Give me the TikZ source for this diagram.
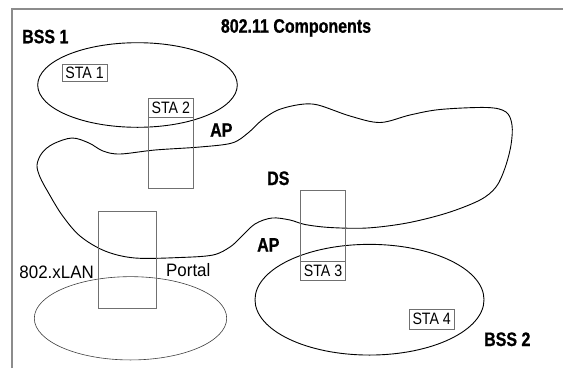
\documentclass[tikz,border=0pt]{standalone}
\usepackage{fontspec}
\setmainfont{Liberation Sans}
\newfontfamily\stafont[FakeStretch=0.86]{Liberation Sans}
\newfontfamily\boldfont[FakeStretch=0.82,FakeBold=0.8]{Liberation Sans Bold}
\newfontfamily\plainfont[FakeStretch=0.94]{Liberation Sans}
\usetikzlibrary{shapes.geometric}
\definecolor{framegray}{HTML}{8C8C8C}
\definecolor{boxgray}{HTML}{707070}
\begin{document}
\begin{tikzpicture}[x=1pt,y=-1pt,
  lbl/.style={font=\boldfont\fontsize{19.5}{19.5}\selectfont, inner sep=0pt},
  plain/.style={font=\plainfont\fontsize{18}{18}\selectfont, inner sep=0pt},
  sta/.style={draw=boxgray, line width=0.8pt, minimum width=45pt, minimum height=19pt, inner sep=0pt, font=\stafont\fontsize{16.5}{16.5}\selectfont},
  bss/.style={draw=black, line width=0.9pt, ellipse, inner sep=0pt},
  lan/.style={draw=black!75, line width=0.6pt, ellipse, inner sep=0pt},
  linkbox/.style={draw=boxgray, line width=0.7pt, rectangle, inner sep=0pt}
]
\useasboundingbox (0,0) rectangle (563,368);
\fill[white] (0,0) rectangle (563,368);
% frame
\draw[framegray, line width=1.5pt] (12,368) -- (12,9) -- (563,9);

% BSS ellipses
\node[bss, minimum width=199.6pt, minimum height=84.6pt] (bss1) at (137.5,85) {};
\node[bss, minimum width=229pt, minimum height=110.7pt] (bss2) at (369.5,299.7) {};
\node[lan, minimum width=192.4pt, minimum height=83.3pt] (lan) at (130.5,318.3) {};

% DS blob
\draw[line width=0.9pt] plot[smooth cycle, tension=0.55] coordinates {
 (37,165) (42,153) (53,144) (72,138) (89,143) (103,151) (120,154) (155,150)
 (200,147) (232,143) (248,133) (262,120) (278,110) (300,104.5) (318,105)
 (350,116) (380,122.5) (410,115) (440,109.5) (487,107.5) (506,112) (512,125)
 (511,145) (505,168) (496,187) (480,200) (447,213) (407,223) (367,228)
 (330,227.5) (305,224.5) (290,220) (272,218) (255,224) (240,238) (230,247)
 (213,255) (180,257.5) (135,258) (105,251) (80,236) (62,215) (48,192) (40,177)};

% AP / portal rectangles
\node[linkbox, minimum width=45pt, minimum height=90.2pt] (ap1) at (170.8,143.4) {};
\node[linkbox, minimum width=44.6pt, minimum height=90pt] (ap2) at (323,235) {};
\node[linkbox, minimum width=58.4pt, minimum height=97.3pt] (portal) at (127.5,259.7) {};

% stations
\node[sta, minimum height=17pt] (sta1) at (84.5,72.5) {STA 1};
\node[sta, anchor=north] (sta2) at (ap1.north) {STA 2};
\node[sta, anchor=south] (sta3) at (ap2.south) {STA 3};
\node[sta, minimum height=20pt] (sta4) at (431.7,319.3) {STA 4};

% labels
\node[lbl, anchor=base] (title) at (296,32.7) {802.11 Components};
\node[lbl, anchor=base west] (bss1lbl) at (22,43.3) {BSS 1};
\node[lbl, anchor=base west] (bss2lbl) at (484,346) {BSS 2};
\node[lbl, anchor=base west] (ap1lbl) at (210,136.7) {AP};
\node[lbl, anchor=base west] (ap2lbl) at (257,251.5) {AP};
\node[lbl, anchor=base west] (dslbl) at (267,185) {DS};
\node[plain, anchor=base west] (lanlbl) at (19.3,278.7) {802.xLAN};
\node[plain, anchor=base west] (portallbl) at (166,276.7) {Portal};
\end{tikzpicture}
\end{document}
